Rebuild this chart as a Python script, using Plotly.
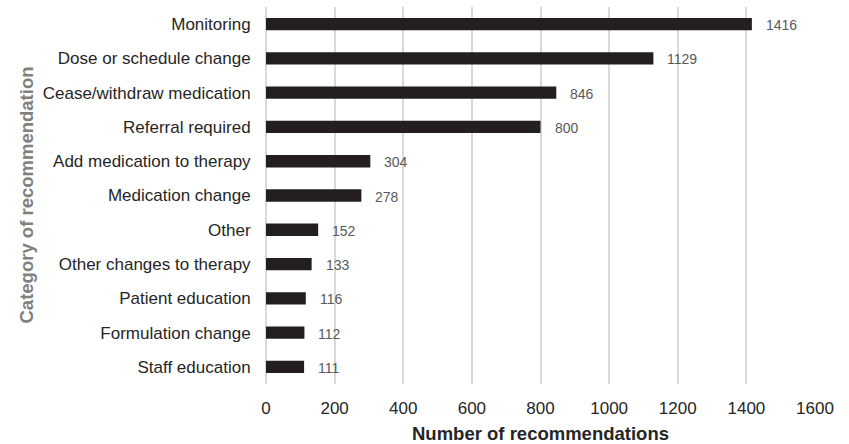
import plotly.graph_objects as go

categories = [
    "Monitoring",
    "Dose or schedule change",
    "Cease/withdraw medication",
    "Referral required",
    "Add medication to therapy",
    "Medication change",
    "Other",
    "Other changes to therapy",
    "Patient education",
    "Formulation change",
    "Staff education",
]
counts = [1416, 1129, 846, 800, 304, 278, 152, 133, 116, 112, 111]
x_ticks = [0, 200, 400, 600, 800, 1000, 1200, 1400, 1600]

FONT = "Liberation Sans, Arial, sans-serif"

fig = go.Figure(
    go.Bar(
        x=counts,
        y=categories,
        orientation="h",
        marker=dict(color="#231f20", line=dict(width=0)),
        width=0.36,
        hoverinfo="x+y",
    )
)

# value labels to the right of each bar
for cat, val in zip(categories, counts):
    fig.add_annotation(
        x=val, y=cat, xref="x", yref="y",
        text=str(val), showarrow=False,
        xanchor="left", yanchor="middle",
        xshift=12, yshift=-1,
        font=dict(family=FONT, size=14, color="#595959"),
    )

# axis titles
fig.add_annotation(
    x=0.5, y=0, xref="paper", yref="paper",
    text="<b>Number of recommendations</b>", showarrow=False,
    xanchor="center", yanchor="middle", yshift=-49,
    font=dict(family=FONT, size=18.5, color="#262626"),
)
fig.add_annotation(
    x=0, y=0.5, xref="paper", yref="paper",
    text="<b>Category of recommendation</b>", showarrow=False,
    textangle=-90, xanchor="center", yanchor="middle", xshift=-240,
    font=dict(family=FONT, size=18.5, color="#808080"),
)

fig.update_layout(
    width=849, height=444,
    margin=dict(l=266, r=34, t=7, b=60),
    plot_bgcolor="white", paper_bgcolor="white",
    showlegend=False,
    font=dict(family=FONT, size=17, color="#262626"),
    xaxis=dict(
        range=[0, 1600],
        tickvals=x_ticks,
        ticktext=[str(t) for t in x_ticks],
        showgrid=True, gridcolor="#d9d9d9", gridwidth=1.5,
        zeroline=True, zerolinecolor="#d9d9d9", zerolinewidth=1.5,
        showline=False,
        ticks="outside", ticklen=9, tickcolor="rgba(0,0,0,0)",
        tickfont=dict(family=FONT, size=17, color="#262626"),
    ),
    yaxis=dict(
        categoryorder="array",
        categoryarray=categories,
        autorange="reversed",
        showgrid=False, zeroline=False, showline=False,
        ticks="outside", ticklen=11, tickcolor="rgba(0,0,0,0)",
        tickfont=dict(family=FONT, size=17, color="#262626"),
    ),
)

fig.write_html("out.html")
